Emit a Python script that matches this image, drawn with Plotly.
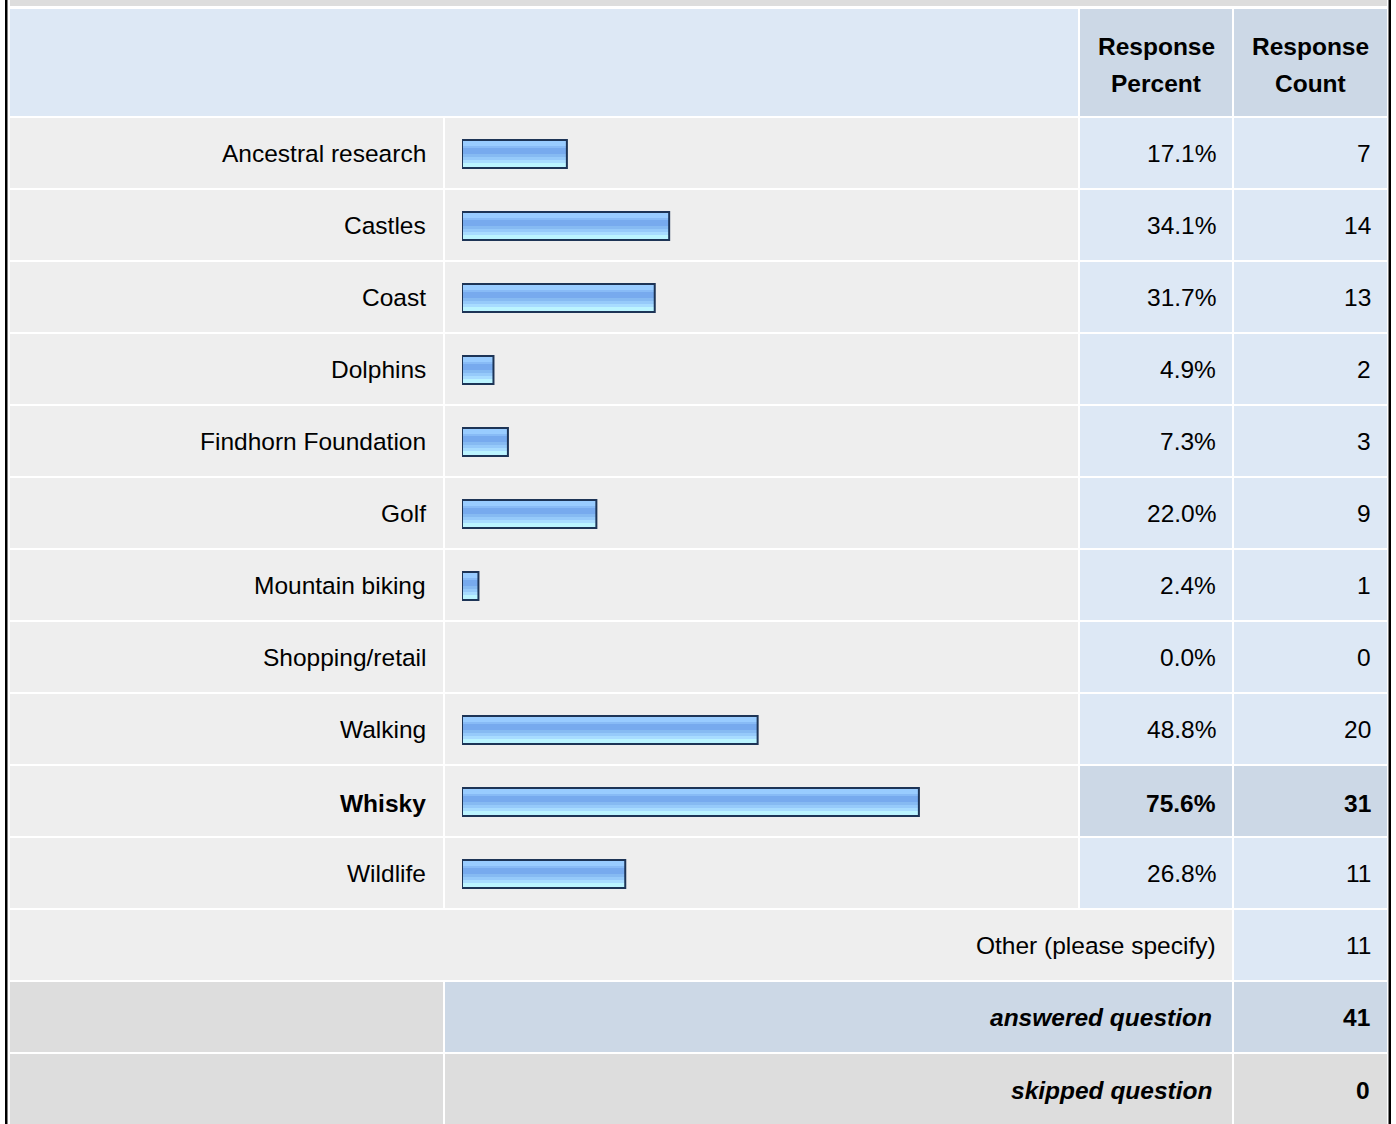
import plotly.graph_objects as go

# ---------------- data ----------------
categories = ["Ancestral research", "Castles", "Coast", "Dolphins", "Findhorn Foundation",
              "Golf", "Mountain biking", "Shopping/retail", "Walking", "Whisky", "Wildlife"]
percents = [17.1, 34.1, 31.7, 4.9, 7.3, 22.0, 2.4, 0.0, 48.8, 75.6, 26.8]
counts = [7, 14, 13, 2, 3, 9, 1, 0, 20, 31, 11]
header_labels = [["Response", "Percent"], ["Response", "Count"]]
other_label = "Other (please specify)"
other_count = 11
answered_label = "answered question"
answered_count = 41
skipped_label = "skipped question"
skipped_count = 0
highlight = "Whisky"

# ---------------- style / layout ----------------
W, H = 1396, 1124
FONT = "Liberation Sans, Arial, sans-serif"
FS = 24.5
C_HEAD = "#dde8f5"
C_HEAD2 = "#ccd8e6"
C_ROW = "#eeeeee"
C_NUM = "#dde8f5"
C_GREY = "#dddddd"
C_HL = "#ccd8e6"
C_TEXT = "#000000"

X_L0, X_L1 = 10, 443
X_B0, X_B1 = 445, 1078
X_P0, X_P1 = 1080, 1232
X_C0, X_C1 = 1234, 1387
HEAD_T, HEAD_B = 9, 116
ROW_T0, ROW_PITCH, ROW_H = 118, 72, 70

shapes = []
annots = []


def rect(x0, x1, y0, y1, color):
    shapes.append(dict(type="rect", xref="x", yref="y", x0=x0, x1=x1, y0=y0, y1=y1,
                       fillcolor=color, line=dict(width=0), layer="below"))


def text(x, y, s, anchor="right", bold=False, italic=False):
    annots.append(dict(x=x, y=y, xref="x", yref="y", text=s, showarrow=False,
                       xanchor=anchor, yanchor="middle",
                       font=dict(family=FONT, size=FS, color=C_TEXT,
                                 weight="bold" if bold else "normal",
                                 style="italic" if italic else "normal")))


# outer frame
rect(5, 7.5, 0, H, "#000000")
rect(1388.5, 1391, 0, H, "#000000")
rect(X_L0, X_C1, 0, 6, C_GREY)

# header
rect(X_L0, X_B1, HEAD_T, HEAD_B, C_HEAD)
rect(X_P0, X_P1, HEAD_T, HEAD_B, C_HEAD2)
rect(X_C0, X_C1, HEAD_T, HEAD_B, C_HEAD2)
for (x0, x1), lines in zip([(X_P0, X_P1), (X_C0, X_C1)], header_labels):
    cx = (x0 + x1) / 2
    text(cx, 46, lines[0], anchor="center", bold=True)
    text(cx, 83, lines[1], anchor="center", bold=True)

# data rows
for i, (cat, p, c) in enumerate(zip(categories, percents, counts)):
    t = ROW_T0 + i * ROW_PITCH
    b = t + ROW_H
    cy = (t + b) / 2
    hl = cat == highlight
    rect(X_L0, X_L1, t, b, C_ROW)
    rect(X_B0, X_B1, t, b, C_ROW)
    rect(X_P0, X_P1, t, b, C_HL if hl else C_NUM)
    rect(X_C0, X_C1, t, b, C_HL if hl else C_NUM)
    text(428, cy + (2 if hl else 0), cat, bold=hl)
    text(1218, cy + (2 if hl else 0), f"{p:.1f}%", bold=hl)
    text(1373, cy + (2 if hl else 0), str(c), bold=hl)

n = len(categories)
# other row
t = ROW_T0 + n * ROW_PITCH
rect(X_L0, X_P1, t, t + ROW_H, C_ROW)
rect(X_C0, X_C1, t, t + ROW_H, C_NUM)
text(1218, t + ROW_H / 2, other_label)
text(1373, t + ROW_H / 2, str(other_count))
# answered row
t = ROW_T0 + (n + 1) * ROW_PITCH
rect(X_L0, X_L1, t, t + ROW_H, C_GREY)
rect(X_B0, X_P1, t, t + ROW_H, C_HEAD2)
rect(X_C0, X_C1, t, t + ROW_H, C_HEAD2)
text(1214, t + ROW_H / 2, answered_label, bold=True, italic=True)
text(1372, t + ROW_H / 2, str(answered_count), bold=True)
# skipped row
t = ROW_T0 + (n + 2) * ROW_PITCH
rect(X_L0, X_L1, t, H + 10, C_GREY)
rect(X_B0, X_P1, t, H + 10, C_GREY)
rect(X_C0, X_C1, t, H + 10, C_GREY)
text(1214, t + ROW_H / 2 + 1, skipped_label, bold=True, italic=True)
text(1372, t + ROW_H / 2 + 1, str(skipped_count), bold=True)

# ---------------- bars ----------------
PX_PER_PCT = 6.017
PAD = 2 / PX_PER_PCT  # bar border allowance (in %)
BAR_X0 = 462
dom_x1 = BAR_X0 + (100 + PAD) * PX_PER_PCT
bar_len = [(p + PAD) if p > 0 else None for p in percents]

rows_top = ROW_T0
rows_bot = ROW_T0 + n * ROW_PITCH

fig = go.Figure()

stripes = [(-13, -8, "#99ccff"), (-8, -6, "#88bbf6"), (-6, 0, "#77aaee"),
           (0, 3, "#86baf2"), (3, 6, "#96cafa"), (6, 9, "#a8dcff"), (9, 13, "#bbf4ff")]
for a, b_, col in stripes:
    fig.add_trace(go.Bar(y=categories, x=bar_len, base=-PAD, orientation="h",
                         xaxis="x2", yaxis="y2", offset=a / ROW_PITCH,
                         width=(b_ - a) / ROW_PITCH,
                         marker=dict(color=col, line=dict(width=0)),
                         hoverinfo="skip", showlegend=False))
fig.add_trace(go.Bar(y=categories, x=bar_len, base=-PAD, orientation="h",
                     xaxis="x2", yaxis="y2", offset=-14 / ROW_PITCH,
                     width=28 / ROW_PITCH,
                     marker=dict(color="rgba(0,0,0,0)",
                                 line=dict(width=2, color="#1d3456")),
                     hoverinfo="skip", showlegend=False))

fig.update_layout(
    width=W, height=H,
    margin=dict(l=0, r=0, t=0, b=0, pad=0),
    paper_bgcolor="#ffffff", plot_bgcolor="rgba(0,0,0,0)",
    barmode="overlay",
    showlegend=False,
    xaxis=dict(range=[0, W], visible=False, fixedrange=True),
    yaxis=dict(range=[H, 0], visible=False, fixedrange=True),
    xaxis2=dict(domain=[BAR_X0 / W, dom_x1 / W], range=[-PAD, 100], visible=False,
                anchor="y2", fixedrange=True),
    yaxis2=dict(domain=[1 - rows_bot / H, 1 - rows_top / H], categoryorder="array",
                categoryarray=categories, range=[n - 0.5, -0.5], visible=False,
                anchor="x2", fixedrange=True),
    shapes=shapes,
    annotations=annots,
)

fig.write_html("out.html", config={"displayModeBar": False},
               post_script="document.body.style.margin='0';"
                           "document.body.style.overflow='hidden';")
